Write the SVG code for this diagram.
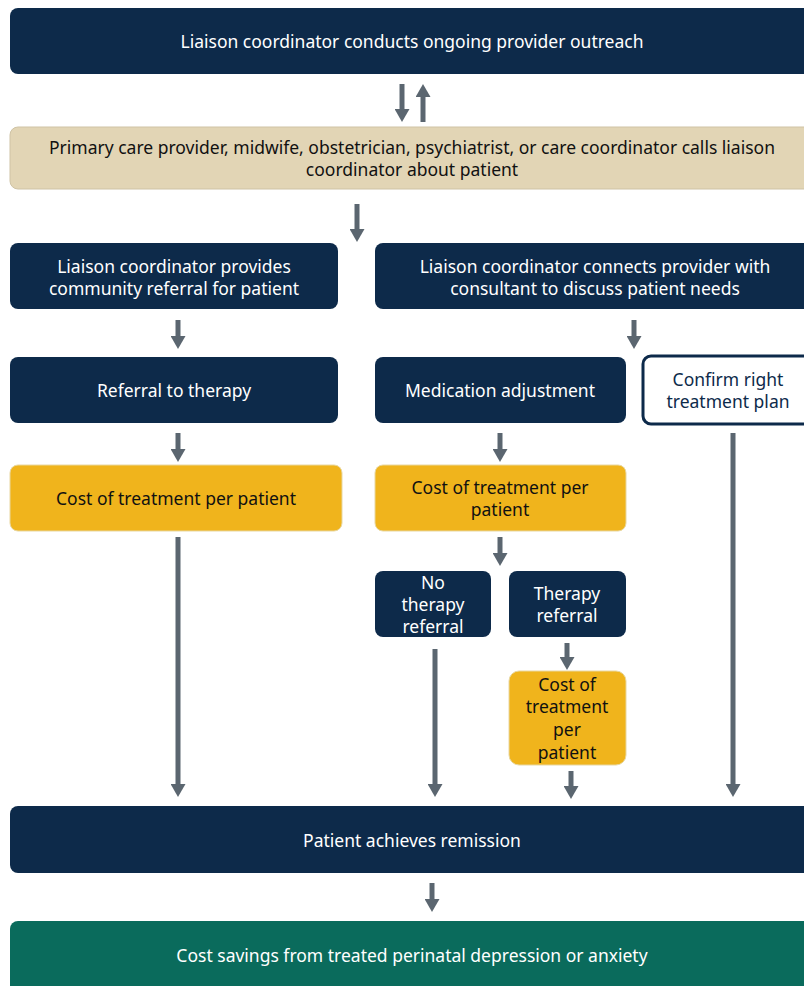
<svg xmlns="http://www.w3.org/2000/svg" width="804" height="986" viewBox="0 0 804 986">
<defs>
<marker id="ah" viewBox="0 0 13 15" refX="0" refY="7.5" markerWidth="13" markerHeight="15" markerUnits="userSpaceOnUse" orient="auto">
<path d="M0,0 L13,7.5 L0,15 z" fill="#5b6670"/>
</marker>
</defs>
<style>
.navy{fill:#0d2a4a;}
.beige{fill:#e2d5b5;stroke:#cfc3a5;stroke-width:1;}
.yellow{fill:#f0b41c;stroke:#e8d7a0;stroke-width:1;}
.green{fill:#0a6b5c;}
.outline{fill:#ffffff;stroke:#0d2a4a;stroke-width:3;}
text{font-family:"Noto Sans","Open Sans","Liberation Sans",sans-serif;font-size:17.5px;text-anchor:middle;}
.w{fill:#ffffff;}
.k{fill:#111111;}
.n{fill:#0d2a4a;}
.conn line{stroke:#5b6670;stroke-width:5;marker-end:url(#ah);}
</style>
<rect width="804" height="986" fill="#ffffff"/>

<g id="outreach"><rect class="navy" x="10" y="8" width="820" height="66" rx="8"/><text class="w" x="412" y="48">Liaison coordinator conducts ongoing provider outreach</text></g>
<g id="calls"><rect class="beige" x="10" y="127" width="820" height="62" rx="8"/><text class="k" x="412" y="154">Primary care provider, midwife, obstetrician, psychiatrist, or care coordinator calls liaison</text><text class="k" x="412" y="176">coordinator about patient</text></g>
<g id="community"><rect class="navy" x="10" y="243" width="328" height="66" rx="8"/><text class="w" x="174" y="273">Liaison coordinator provides</text><text class="w" x="174" y="295">community referral for patient</text></g>
<g id="connects"><rect class="navy" x="375" y="243" width="455" height="66" rx="8"/><text class="w" x="595" y="273">Liaison coordinator connects provider with</text><text class="w" x="595" y="295">consultant to discuss patient needs</text></g>
<g id="referral"><rect class="navy" x="10" y="357" width="328" height="66" rx="8"/><text class="w" x="174" y="397">Referral to therapy</text></g>
<g id="medication"><rect class="navy" x="375" y="357" width="251" height="66" rx="8"/><text class="w" x="500" y="397">Medication adjustment</text></g>
<g id="confirm"><rect class="outline" x="643" y="356" width="180" height="68" rx="8"/><text class="n" x="728" y="386">Confirm right</text><text class="n" x="728" y="408">treatment plan</text></g>
<g id="cost1"><rect class="yellow" x="10" y="465" width="332" height="66" rx="8"/><text class="k" x="176" y="505">Cost of treatment per patient</text></g>
<g id="cost2"><rect class="yellow" x="375" y="465" width="251" height="66" rx="8"/><text class="k" x="500" y="494">Cost of treatment per</text><text class="k" x="500" y="516">patient</text></g>
<g id="notherapy"><rect class="navy" x="375" y="571" width="116" height="66" rx="8"/><text class="w" x="433" y="589">No</text><text class="w" x="433" y="611">therapy</text><text class="w" x="433" y="633">referral</text></g>
<g id="therapy"><rect class="navy" x="509" y="571" width="117" height="66" rx="8"/><text class="w" x="567" y="600">Therapy</text><text class="w" x="567" y="622">referral</text></g>
<g id="cost3"><rect class="yellow" x="509" y="671" width="117" height="94" rx="10"/><text class="k" x="567" y="691">Cost of</text><text class="k" x="567" y="713">treatment</text><text class="k" x="567" y="736">per</text><text class="k" x="567" y="759">patient</text></g>
<g id="remission"><rect class="navy" x="10" y="806" width="820" height="67" rx="8"/><text class="w" x="412" y="847">Patient achieves remission</text></g>
<g id="savings"><rect class="green" x="10" y="921" width="820" height="80" rx="8"/><text class="w" x="412" y="962">Cost savings from treated perinatal depression or anxiety</text></g>

<g id="connectors" class="conn">
<line x1="402" y1="84" x2="402" y2="109"/>
<line x1="423" y1="122" x2="423" y2="97"/>
<line x1="357" y1="204" x2="357" y2="229"/>
<line x1="178" y1="320" x2="178" y2="336"/>
<line x1="634" y1="320" x2="634" y2="336"/>
<line x1="178" y1="433" x2="178" y2="449"/>
<line x1="500" y1="433" x2="500" y2="449"/>
<line x1="178" y1="537" x2="178" y2="784"/>
<line x1="500" y1="537" x2="500" y2="553"/>
<line x1="733" y1="433" x2="733" y2="784"/>
<line x1="435" y1="649" x2="435" y2="784"/>
<line x1="567" y1="643" x2="567" y2="657"/>
<line x1="571" y1="771" x2="571" y2="786"/>
<line x1="432" y1="883" x2="432" y2="899"/>
</g>
</svg>
